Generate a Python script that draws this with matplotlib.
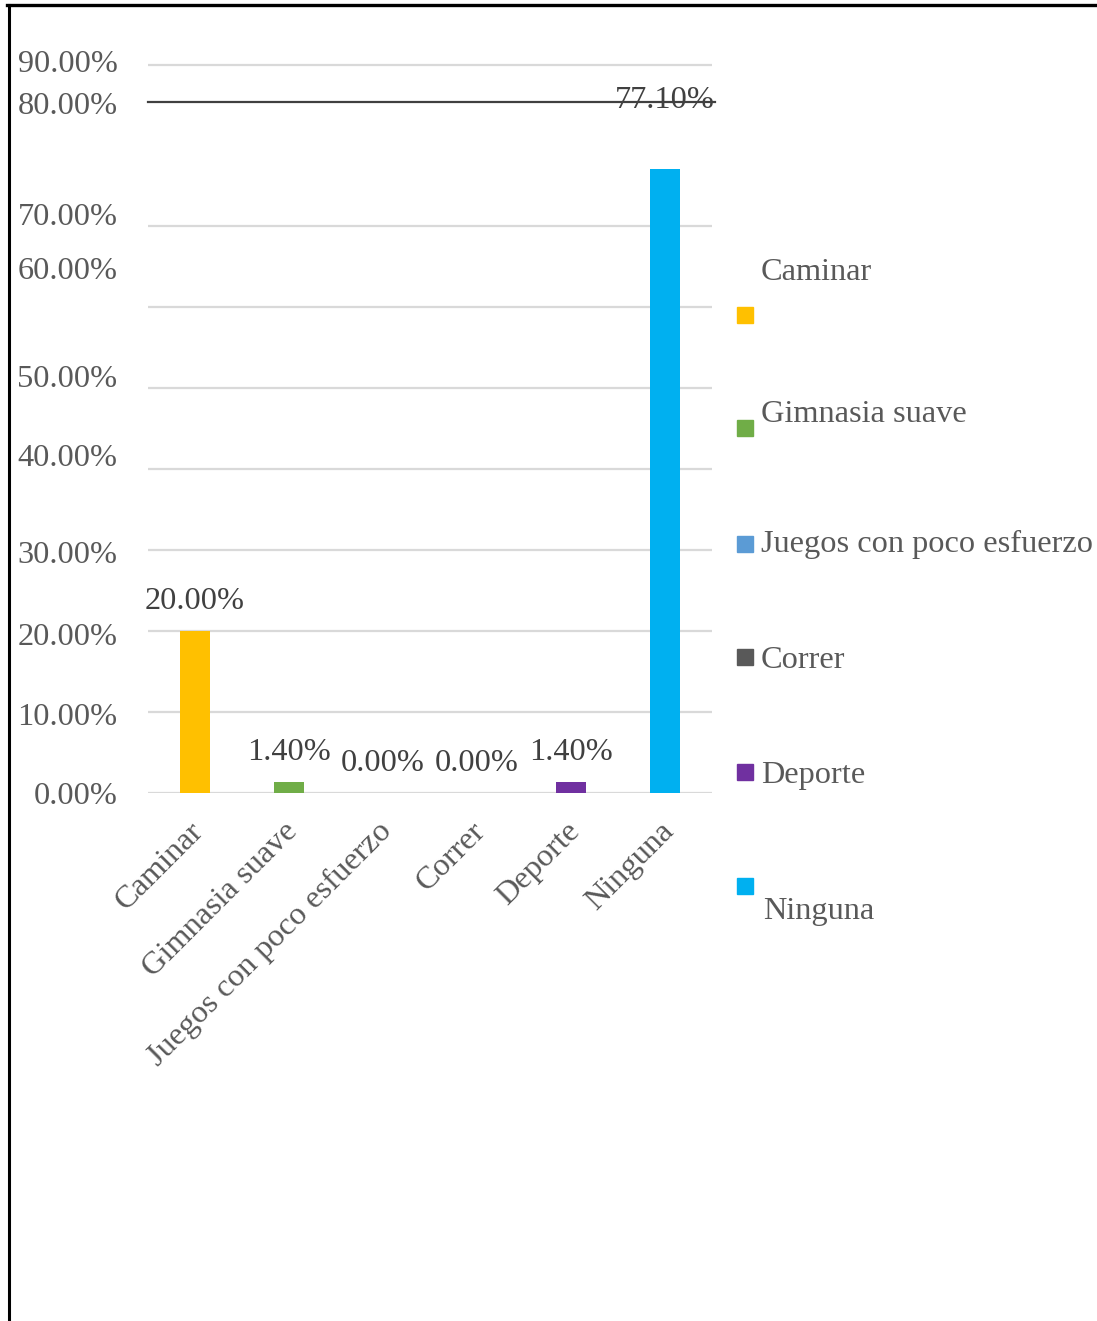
import matplotlib.pyplot as plt
from matplotlib.patches import Rectangle
from matplotlib.transforms import ScaledTranslation

CATEGORIES = ["Caminar", "Gimnasia suave", "Juegos con poco esfuerzo", "Correr", "Deporte", "Ninguna"]
VALUES = [0.20, 0.014, 0.0, 0.0, 0.014, 0.771]
COLORS = ["#FFC000", "#70AD47", "#5B9BD5", "#595959", "#7030A0", "#00B0F0"]
TICK_VALUES = [0.0, 0.1, 0.2, 0.3, 0.4, 0.5, 0.6, 0.7, 0.8, 0.9]
GRID_VALUES = [0.0, 0.1, 0.2, 0.3, 0.4, 0.5, 0.6, 0.7, 0.9]

# where the y tick labels sit (data units), they drifted from their gridlines
TICK_LABEL_POS = [0.0, 0.098, 0.197, 0.298, 0.418, 0.515, 0.649, 0.715, 0.852, 0.905]
# legend rows in pixels: (marker y, text x, text y)
LEGEND_ROWS = [(315, 761, 272), (428, 761, 414), (544, 761, 544),
               (657, 761, 660), (772, 761, 775), (886, 763, 911)]

W, H = 1097, 1321
FONT = "Liberation Serif"
FS = 23.3
GREY = "#595959"
DARK = "#404040"


def fx(x):
    return x / W


def fy(y):
    return 1 - y / H


def main():
    plt.rcParams['font.family'] = [FONT, 'DejaVu Serif']
    fig = plt.figure(figsize=(W / 100, H / 100), dpi=100)
    ax = fig.add_axes([fx(148), fy(793), fx(712) - fx(148), (793 - 60.5) / H])

    xs = range(len(CATEGORIES))
    ax.bar(xs, VALUES, width=0.32, color=COLORS, zorder=3)
    ax.set_xlim(-0.5, len(CATEGORIES) - 0.5)
    ax.set_ylim(0, 0.9)

    for v in GRID_VALUES:
        ax.axhline(v, color="#D9D9D9", lw=1.6, zorder=1)

    # stray dark line crossing the top of the plot
    ax.plot([-0.5, 5.53], [0.854, 0.854], color=DARK, lw=1.6, clip_on=False, zorder=4)

    for s in ax.spines.values():
        s.set_visible(False)

    ax.set_yticks(TICK_LABEL_POS)
    ax.set_yticklabels([f"{v * 100:.2f}%" for v in TICK_VALUES])
    ax.tick_params(axis='y', length=0, pad=22, labelsize=FS, labelcolor=GREY)

    ax.set_xticks(list(xs))
    ax.set_xticklabels(CATEGORIES, rotation=45, ha='right', rotation_mode='anchor')
    ax.tick_params(axis='x', length=0, pad=17, labelsize=FS, labelcolor=GREY)
    offset = ScaledTranslation(-6 / 100, 0, fig.dpi_scale_trans)
    for lbl in ax.get_xticklabels():
        lbl.set_transform(lbl.get_transform() + offset)

    # value labels
    for i, v in enumerate(VALUES):
        if i == len(VALUES) - 1:
            ax.text(i, 0.856, f"{v * 100:.2f}%", ha='center', va='center',
                    fontsize=FS, color=DARK, zorder=5)
        else:
            ax.annotate(f"{v * 100:.2f}%", (i, v), xytext=(0, 21), textcoords='offset points',
                        ha='center', va='center', fontsize=FS, color=DARK)

    # legend drawn by hand
    for (my, tx, ty), name, c in zip(LEGEND_ROWS, CATEGORIES, COLORS):
        fig.patches.append(Rectangle((fx(737), fy(my + 8)), 16 / W, 16 / H,
                                     transform=fig.transFigure, color=c))
        fig.text(fx(tx), fy(ty), name, ha='left', va='center', fontsize=FS, color=GREY)

    # outer frame (left and top edges)
    fig.add_artist(plt.Line2D([fx(8.5), fx(8.5)], [0, fy(5)], color='black', lw=2.2))
    fig.add_artist(plt.Line2D([fx(7.4), 1], [fy(5), fy(5)], color='black', lw=2.4))

    fig.savefig("out.png", dpi=100)
    plt.close(fig)


if __name__ == "__main__":
    main()
